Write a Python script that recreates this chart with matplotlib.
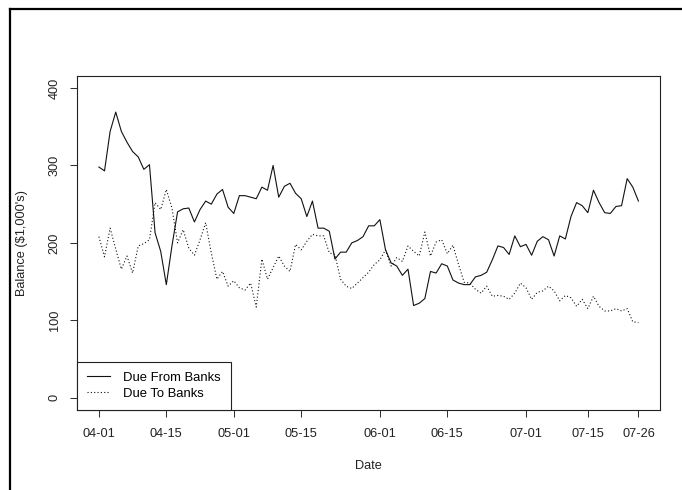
import matplotlib
matplotlib.use("Agg")
import matplotlib.pyplot as plt
from matplotlib.lines import Line2D

plt.rcParams["font.family"] = ["Liberation Sans", "DejaVu Sans"]
plt.rcParams["font.size"] = 9

# Observation dates (trading days, Sundays and holidays skipped)
dates = [
    "04-01", "04-03", "04-04", "04-05", "04-06", "04-07", "04-08",
    "04-10", "04-11", "04-12", "04-13", "04-14", "04-15",
    "04-17", "04-18", "04-19", "04-20", "04-21", "04-22",
    "04-24", "04-25", "04-26", "04-27", "04-28",
    "05-01", "05-02", "05-03", "05-04", "05-05", "05-06",
    "05-08", "05-09", "05-10", "05-11", "05-12", "05-13",
    "05-15", "05-16", "05-17", "05-18", "05-19", "05-20",
    "05-22", "05-23", "05-24", "05-25", "05-26", "05-27",
    "05-30", "05-31", "06-01", "06-02", "06-03",
    "06-05", "06-06", "06-07", "06-08", "06-09", "06-10",
    "06-12", "06-13", "06-14", "06-15", "06-16", "06-17",
    "06-19", "06-20", "06-21", "06-22", "06-23", "06-24",
    "06-26", "06-27", "06-28", "06-29", "06-30", "07-01",
    "07-03", "07-05", "07-06", "07-07", "07-08",
    "07-10", "07-11", "07-12", "07-13", "07-14", "07-15",
    "07-17", "07-18", "07-19", "07-20", "07-21", "07-22",
    "07-24", "07-25", "07-26",
]

# Balances in $1,000's
due_from_banks = [
    298, 293, 344, 369, 344, 330, 318, 311, 295, 301,
    213, 189, 146, 196, 240, 244, 245, 227, 243, 254,
    250, 263, 269, 246, 238, 261, 261, 259, 257, 272,
    268, 300, 259, 273, 277, 264, 257, 234, 254, 219,
    219, 215, 179, 188, 188, 200, 203, 208, 222, 222,
    230, 191, 174, 170, 158, 166, 119, 122, 128, 163,
    161, 173, 170, 152, 148, 146, 146, 156, 158, 162,
    178, 196, 194, 185, 209, 195, 198, 184, 202, 208,
    204, 183, 209, 205, 234, 252, 248, 239, 268, 252,
    239, 238, 247, 248, 283, 272, 254,
]
due_to_banks = [
    208, 182, 219, 192, 166, 183, 161, 196, 199, 204,
    252, 243, 269, 245, 200, 217, 193, 184, 204, 226,
    187, 153, 163, 144, 151, 142, 139, 148, 117, 179,
    153, 168, 183, 170, 163, 198, 191, 202, 211, 209,
    209, 187, 185, 153, 144, 141, 148, 155, 162, 172,
    178, 191, 170, 181, 176, 196, 189, 183, 214, 183,
    201, 204, 186, 197, 172, 149, 148, 140, 135, 144,
    131, 132, 131, 127, 135, 148, 142, 127, 136, 138,
    144, 138, 125, 132, 129, 118, 127, 115, 131, 118,
    112, 112, 115, 112, 115, 98, 97,
]

tick_dates = ["04-01", "04-15", "05-01", "05-15", "06-01",
              "06-15", "07-01", "07-15", "07-26"]
y_ticks = [0, 100, 200, 300, 400]

W, H = 682, 490
fig = plt.figure(figsize=(W / 100, H / 100), dpi=100)
ax = fig.add_axes([77.3 / W, 1 - 410 / H, (660 - 77.3) / W, (410 - 75.7) / H])

x = list(range(len(dates)))
ax.plot(x, due_from_banks, color="#111111", lw=0.8, label="Due From Banks")
ax.plot(x, due_to_banks, color="#111111", lw=0.8, linestyle=(0, (1, 2)),
        label="Due To Banks")

n = len(dates) - 1
ax.set_xlim(-0.04 * n, n * 1.04)
ax.set_ylim(-16, 416)

ax.set_xticks([dates.index(d) for d in tick_dates])
ax.set_xticklabels(tick_dates)
ax.set_yticks(y_ticks)
ax.set_yticklabels([str(v) for v in y_ticks], rotation=90, va="center")

ax.tick_params(axis="both", direction="out", length=5, width=0.75,
               color="#333333", labelsize=9.2, labelcolor="#222222")
ax.tick_params(axis="x", pad=8)
ax.tick_params(axis="y", pad=7)

for s in ax.spines.values():
    s.set_linewidth(0.8)
    s.set_color("#222222")

ax.set_xlabel("Date", fontsize=9.2, color="#222222")
ax.set_ylabel("Balance ($1,000's)", fontsize=9.2, color="#222222")
ax.xaxis.set_label_coords(0.5, (410 - 466) / (410 - 75.7))
ax.xaxis.label.set_va("center")
ax.yaxis.set_label_coords((22 - 77.3) / (660 - 77.3), 0.5)
ax.yaxis.label.set_va("center")

leg = ax.legend(loc="lower left", bbox_to_anchor=(0, 0), borderaxespad=0,
                fancybox=False, edgecolor="#222222", framealpha=1,
                handlelength=1.75, handletextpad=1.0, borderpad=0.77,
                labelspacing=0.3, fontsize=9.4)
leg.get_frame().set_linewidth(0.8)
leg.get_frame().set_boxstyle("square", pad=0)

# Outer frame on the top and left edges
fig.add_artist(Line2D([10 / W, 1], [1 - 9.5 / H, 1 - 9.5 / H],
                      transform=fig.transFigure, color="black", lw=1.6))
fig.add_artist(Line2D([10 / W, 10 / W], [0, 1 - 9.5 / H],
                      transform=fig.transFigure, color="black", lw=1.6))

fig.savefig("out.png", dpi=100)
